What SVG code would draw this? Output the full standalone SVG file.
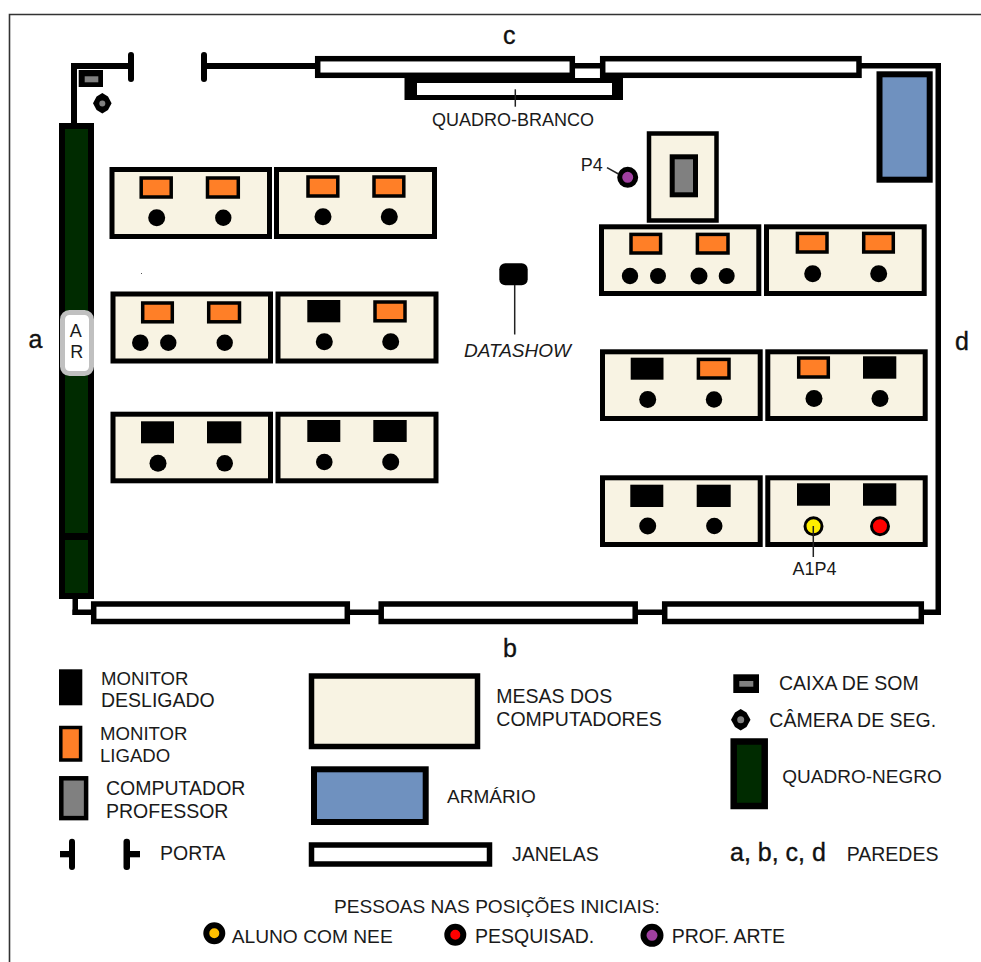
<svg xmlns="http://www.w3.org/2000/svg" width="981" height="962" viewBox="0 0 981 962">
<style>
text{font-family:"Liberation Sans",Arial,sans-serif;font-size:19.500px;fill:#1a1a1a}
.w{font-size:25px;fill:#111;stroke:#111;stroke-width:.35}
.n{font-size:18px}
.m{font-size:18.600px}
.desk{fill:#f8f3e3;stroke:#000;stroke-width:5}
.on{fill:#ff7f27;stroke:#000;stroke-width:3.5}
.off{fill:#000}
.p{fill:#000}
.win{fill:#fff;stroke:#000;stroke-width:5.5}
.wall{fill:#000}
.pc{fill:#808080;stroke:#000;stroke-width:5}
.arm{fill:#6f91bf;stroke:#000;stroke-width:6}
.gb{fill:#002b00;stroke:#000;stroke-width:6}
.lead{stroke:#222;stroke-width:1.5;fill:none}
</style>
<rect width="981" height="962" fill="#fff"/>
<path d="M9.5 962V14.5H981" fill="none" stroke="#333" stroke-width="1.6"/>
<g id="walls">
<rect class="wall" x="71" y="63" width="57" height="6"/>
<rect class="wall" x="71" y="63" width="6" height="62"/>
<rect class="wall" x="207" y="63" width="110" height="6"/>
<rect class="wall" x="570" y="63" width="35" height="5.5"/>
<rect class="wall" x="858" y="63" width="83" height="5.5"/>
<rect class="wall" x="935.5" y="63" width="5.5" height="552"/>
<rect class="wall" x="72.5" y="597" width="5.5" height="18"/>
<rect class="wall" x="72.5" y="609.5" width="20" height="5.5"/>
<rect class="wall" x="348" y="609.5" width="33" height="5.5"/>
<rect class="wall" x="636" y="609.5" width="28" height="5.5"/>
<rect class="wall" x="922" y="609.5" width="19" height="5.5"/>
</g>
<g id="door"><rect class="wall" x="128" y="52" width="6" height="30" rx="3"/><rect class="wall" x="201" y="52" width="6" height="30" rx="3"/></g>
<g id="whiteboard"><rect class="wall" x="404.500" y="78" width="218.500" height="22"/><rect x="417" y="83" width="195" height="12" fill="#fff"/></g>
<g id="windows-top"><rect class="win" x="317.700" y="58.700" width="254.600" height="16.600"/><rect class="win" x="602.700" y="58.700" width="256.300" height="16.600"/></g>
<g id="windows-bottom"><rect class="win" x="93.700" y="604" width="253.600" height="17.500"/><rect class="win" x="381.200" y="604" width="254" height="17.500"/><rect class="win" x="664.700" y="604" width="256.600" height="17.500"/></g>
<g id="cabinet"><rect class="arm" x="879.500" y="74.300" width="50.200" height="105.400"/></g>
<g id="blackboard"><rect class="gb" x="62" y="126" width="29" height="470"/><rect class="wall" x="59" y="533" width="35" height="7"/></g>
<g id="ar"><rect x="62.500" y="312.500" width="29" height="61" rx="7" fill="#fff" stroke="#c0c0c0" stroke-width="5"/><text class="n" x="75.700" y="337.300" text-anchor="middle">A</text><text class="n" x="76.700" y="357.700" text-anchor="middle">R</text></g>
<g id="speaker"><rect class="wall" x="78.700" y="70" width="24.300" height="17"/><rect x="84.700" y="76.300" width="13.600" height="6" fill="#808080"/></g>
<g id="camera"><path class="p" d="M102.300 93L108 96.500L111.600 103.300L108 110L102.300 113.600L96.600 110L93 103.300L96.600 96.500Z"/><circle cx="102.300" cy="103.500" r="3" fill="#808080"/></g>
<rect x="141" y="273" width="1" height="1" fill="#555"/>
<g id="desk1"><rect class="desk" x="112" y="169.500" width="157.500" height="67"/><rect class="on" x="141.200" y="178" width="30" height="19"/><rect class="on" x="207.500" y="178" width="30.800" height="19"/><circle class="p" cx="156.700" cy="217.700" r="8.500"/><circle class="p" cx="223.300" cy="217.700" r="8.200"/></g>
<g id="desk2"><rect class="desk" x="276.500" y="169.500" width="158" height="67"/><rect class="on" x="308" y="177" width="29.800" height="19"/><rect class="on" x="374" y="177" width="29.800" height="19"/><circle class="p" cx="323" cy="216.700" r="8.500"/><circle class="p" cx="389.300" cy="216.700" r="8.500"/></g>
<g id="desk3"><rect class="desk" x="113" y="294" width="157.500" height="67"/><rect class="on" x="142.700" y="303" width="29.600" height="18.800"/><rect class="on" x="208.700" y="303" width="30.800" height="18.800"/><circle class="p" cx="140.300" cy="342.700" r="8.300"/><circle class="p" cx="168.300" cy="342.700" r="8.200"/><circle class="p" cx="224.700" cy="342.700" r="8.200"/></g>
<g id="desk4"><rect class="desk" x="278" y="294" width="158" height="67"/><rect class="off" x="307.300" y="300" width="33" height="22.300"/><rect class="on" x="375" y="302" width="30" height="18.800"/><circle class="p" cx="324.300" cy="341.700" r="8.500"/><circle class="p" cx="390.700" cy="341.700" r="8.500"/></g>
<g id="desk5"><rect class="desk" x="113" y="414.200" width="157.500" height="66.600"/><rect class="off" x="141" y="421.300" width="33" height="22"/><rect class="off" x="207" y="421.300" width="34.300" height="22"/><circle class="p" cx="158" cy="463.300" r="8.500"/><circle class="p" cx="224.700" cy="463.300" r="8.300"/></g>
<g id="desk6"><rect class="desk" x="278" y="414.200" width="158" height="66.600"/><rect class="off" x="307.300" y="420" width="33" height="22"/><rect class="off" x="373.300" y="420" width="33.400" height="22"/><circle class="p" cx="324.300" cy="462" r="8.300"/><circle class="p" cx="390.700" cy="462" r="8.500"/></g>
<g id="teacher-desk"><rect x="649" y="133.500" width="67.500" height="87" fill="#f8f3e3" stroke="#000" stroke-width="4.500"/><rect class="pc" x="672.200" y="156.800" width="23.300" height="38"/></g>
<g id="desk7"><rect class="desk" x="601.500" y="226.800" width="157.300" height="66.700"/><rect class="on" x="631" y="234.400" width="29.600" height="18.600"/><rect class="on" x="697.400" y="234.400" width="30.600" height="18.600"/><circle class="p" cx="630" cy="276" r="8.200"/><circle class="p" cx="658" cy="276" r="8"/><circle class="p" cx="699" cy="276" r="8.500"/><circle class="p" cx="726.700" cy="276" r="8"/></g>
<g id="desk8"><rect class="desk" x="766.500" y="226.800" width="157.700" height="66.700"/><rect class="on" x="797.400" y="233.400" width="29.600" height="18.600"/><rect class="on" x="863.700" y="233.400" width="29.600" height="18.600"/><circle class="p" cx="812.700" cy="273.700" r="8.500"/><circle class="p" cx="878.700" cy="273.700" r="8.500"/></g>
<g id="desk9"><rect class="desk" x="602.500" y="351.800" width="157.700" height="66.700"/><rect class="off" x="630.700" y="357.700" width="32.800" height="22"/><rect class="on" x="698.400" y="359.400" width="30.600" height="18.600"/><circle class="p" cx="647.700" cy="399.500" r="8.500"/><circle class="p" cx="714" cy="399.500" r="8.200"/></g>
<g id="desk10"><rect class="desk" x="767.800" y="351.800" width="157.400" height="66.700"/><rect class="on" x="798.700" y="358" width="29.600" height="19"/><rect class="off" x="863" y="356.300" width="33.300" height="22.400"/><circle class="p" cx="814" cy="398.500" r="8.500"/><circle class="p" cx="880" cy="398.500" r="8.500"/></g>
<g id="desk11"><rect class="desk" x="602.500" y="477.800" width="157.700" height="66.700"/><rect class="off" x="630.300" y="484.700" width="33" height="22.300"/><rect class="off" x="696.700" y="484.700" width="34" height="22.300"/><circle class="p" cx="647.700" cy="526" r="8.500"/><circle class="p" cx="714.300" cy="526" r="8.200"/></g>
<g id="desk12"><rect class="desk" x="767.800" y="477.800" width="157.400" height="66.700"/><rect class="off" x="797" y="483.300" width="33" height="22.400"/><rect class="off" x="863" y="483.300" width="33.300" height="22.400"/><circle cx="813.500" cy="526.300" r="8.500" fill="#ffee00" stroke="#000" stroke-width="3"/><circle cx="880" cy="526.300" r="8.500" fill="#f00" stroke="#000" stroke-width="3"/></g>
<g id="datashow"><rect class="p" x="499.300" y="263.300" width="28.400" height="22" rx="6"/></g>
<g id="professor"><circle cx="627.700" cy="177.300" r="8" fill="#a040a0" stroke="#000" stroke-width="5"/></g>
<g id="connectors"><path class="lead" d="M514.700 285V334.500"/><path class="lead" d="M515.300 89.300V106.700"/><path class="lead" d="M607 167.700L618.500 174"/><path class="lead" d="M813.300 526V557"/></g>
<g id="labels">
<text class="n" x="432" y="126">QUADRO-BRANCO</text>
<text class="n" x="580.700" y="171">P4</text>
<text x="464" y="357" font-style="italic" style="font-size:19px">DATASHOW</text>
<text class="n" x="814.500" y="575" text-anchor="middle">A1P4</text>
<text class="w" x="28.500" y="348">a</text><text class="w" x="503" y="657">b</text><text class="w" x="503" y="44">c</text><text class="w" x="955" y="350">d</text>
</g>
<g id="legend-monitor-off"><rect class="off" x="59" y="669.300" width="23.300" height="36"/><text class="m" x="101" y="685.300">MONITOR</text><text x="101" y="707.300">DESLIGADO</text></g>
<g id="legend-monitor-on"><rect class="on" x="60.800" y="727.500" width="19.800" height="32.500"/><text class="m" x="100" y="740.300">MONITOR</text><text class="m" x="100" y="762.300">LIGADO</text></g>
<g id="legend-computer"><rect x="61.300" y="778.300" width="24.800" height="39.800" fill="#808080" stroke="#000" stroke-width="4.500"/><text x="106" y="795.300">COMPUTADOR</text><text x="106" y="817.700">PROFESSOR</text></g>
<g id="legend-door"><rect class="wall" x="69" y="838.700" width="6" height="31.300" rx="3"/><rect class="wall" x="60" y="851" width="10" height="6.300"/><rect class="wall" x="123.500" y="838.700" width="6.500" height="31.300" rx="3"/><rect class="wall" x="129" y="851" width="11" height="6.300"/><text x="160" y="860">PORTA</text></g>
<g id="legend-desk"><rect x="311.500" y="676" width="166" height="70.500" fill="#f8f3e3" stroke="#000" stroke-width="5.500"/><text x="496.300" y="703.300">MESAS DOS</text><text x="496.300" y="725.700">COMPUTADORES</text></g>
<g id="legend-cabinet"><rect class="arm" x="314" y="769.300" width="111.700" height="52.700"/><text x="447" y="803" style="font-size:19px">ARMÁRIO</text></g>
<g id="legend-window"><rect x="311.500" y="845" width="178" height="19" fill="#fff" stroke="#000" stroke-width="5.500"/><text x="512" y="861.300">JANELAS</text></g>
<g id="legend-speaker"><rect class="wall" x="733.300" y="674.300" width="25.700" height="18.700"/><rect x="739.300" y="681" width="14" height="5.700" fill="#808080"/><text x="779" y="690.300">CAIXA DE SOM</text></g>
<g id="legend-camera"><path class="p" d="M740.700 709L746.500 712.500L750.500 719.700L746.500 727L740.700 730.500L735 727L731 719.700L735 712.500Z"/><circle cx="740.700" cy="719.700" r="3.500" fill="#808080"/><text x="769.300" y="727">CÂMERA DE SEG.</text></g>
<g id="legend-blackboard"><rect x="733.700" y="741.500" width="31" height="64.500" fill="#002b00" stroke="#000" stroke-width="6.500"/><text x="782.300" y="783" style="font-size:19px">QUADRO-NEGRO</text></g>
<g id="legend-walls"><text class="w" x="730" y="861">a, b, c, d</text><text x="846.700" y="861">PAREDES</text></g>
<g id="legend-people">
<text x="334" y="912.700" style="font-size:19.100px">PESSOAS NAS POSIÇÕES INICIAIS:</text>
<circle cx="214.300" cy="933.300" r="8" fill="#ffc000" stroke="#000" stroke-width="6"/><text x="231.700" y="943.300" style="font-size:19.200px">ALUNO COM NEE</text>
<circle cx="455.300" cy="934.700" r="8" fill="#f00" stroke="#000" stroke-width="6"/><text x="475" y="943.300">PESQUISAD.</text>
<circle cx="652" cy="935.300" r="8.500" fill="#a040a0" stroke="#000" stroke-width="6"/><text x="671.700" y="943.300">PROF. ARTE</text>
</g>
</svg>
